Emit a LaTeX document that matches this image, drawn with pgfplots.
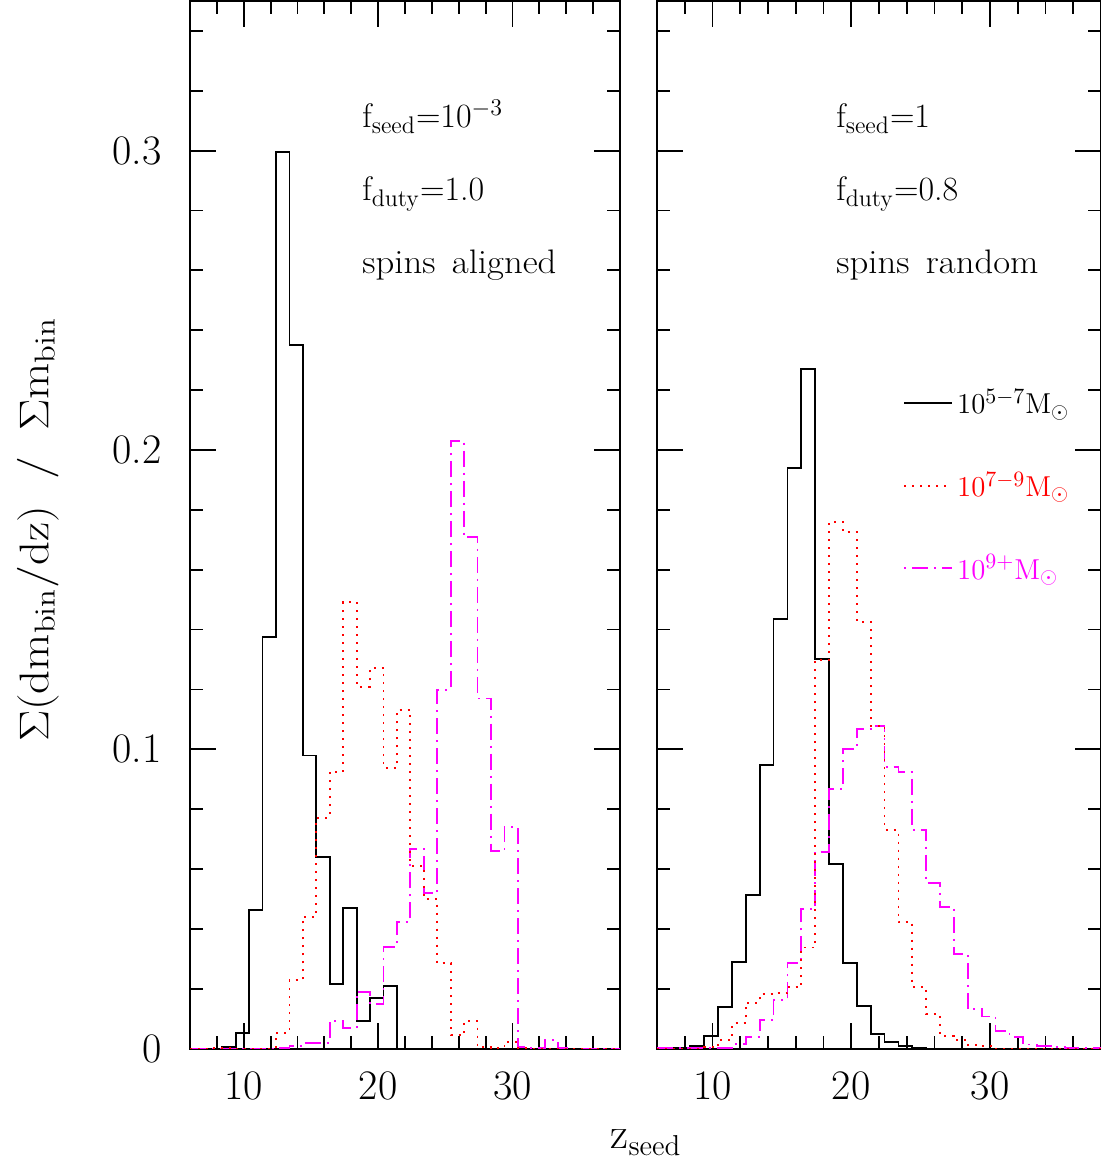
\documentclass[border=0pt]{standalone}
\usepackage{pgfplots}
\pgfplotsset{compat=1.18}
\definecolor{mag}{rgb}{1,0,1}
\definecolor{rdc}{rgb}{1,0,0}
\pgfplotsset{
  panel/.style={
    scale only axis, xmin=6, xmax=38, ymin=0, ymax=0.35, height=523.8pt,
    axis line style={line width=1.1pt, black},
    every tick/.style={line width=0.9pt, black},
    tick align=inside,
    major tick length=13pt, minor tick length=6.5pt,
    xtick={10,20,30}, minor xtick={8,12,14,16,18,22,24,26,28,32,34,36},
    ytick={0,0.1,0.2,0.3}, minor ytick={0.02,0.04,0.06,0.08,0.12,0.14,0.16,0.18,0.22,0.24,0.26,0.28,0.32,0.34},
    xtick pos=both, ytick pos=both,
    xticklabels={10,20,30},
    tick label style={font=\fontsize{21}{25}\selectfont},
    xticklabel style={inner sep=0pt, yshift=-11.5pt, anchor=north},
    yticklabel style={inner sep=0pt, xshift=-14pt, anchor=east},
  },
  blk/.style={black, line width=0.9pt, const plot},
  rd/.style={rdc, line width=0.9pt, const plot, dash pattern=on 1pt off 3pt},
  mg/.style={mag, line width=0.9pt, const plot, dash pattern=on 8pt off 3pt on 1pt off 3pt},
}
\newcommand{\anno}{\fontsize{17}{20}\selectfont}
\begin{document}
\begin{tikzpicture}
\path[use as bounding box] (0pt,0pt) rectangle (550.5pt,584pt);
% left panel
\begin{axis}[panel, at={(95pt,59.7pt)}, anchor=south west, width=215pt,
  yticklabels={0,0.1,0.2,0.3}]
\addplot[blk] coordinates {(6,0) (8.4,0.0006) (9.4,0.0051) (10.4,0.0463) (11.4,0.1376) (12.4,0.2995) (13.4,0.2351) (14.4,0.0979) (15.4,0.0641) (16.4,0.0217) (17.4,0.0469) (18.4,0.0092) (19.4,0.0168) (20.4,0.0210) (21.4,0) (38,0)};
\addplot[mg] coordinates {(6,0) (12.4,0.0003) (13.4,0.0008) (14.4,0.0018) (15.4,0.0018) (16.4,0.0093) (17.4,0.0068) (18.4,0.0190) (19.4,0.0149) (20.4,0.0340) (21.4,0.0424) (22.4,0.0667) (23.4,0.0519) (24.4,0.1198) (25.4,0.2031) (26.4,0.1708) (27.4,0.1170) (28.4,0.0660) (29.4,0.0741) (30.4,0.0006) (31.4,0.0002) (32.4,0.0029) (33.4,0.0002) (34.4,0) (38,0)};
\addplot[rd] coordinates {(6,0) (7.4,0.0003) (9.4,0) (12.4,0.0053) (13.4,0.0229) (14.4,0.0441) (15.4,0.0771) (16.4,0.0925) (17.4,0.1493) (18.4,0.1209) (19.4,0.1271) (20.4,0.0937) (21.4,0.1131) (22.4,0.0611) (23.4,0.0500) (24.4,0.0285) (25.4,0.0045) (26.4,0.0093) (27.4,0.0006) (28.4,0.0003) (29.4,0.0023) (30.4,0.0003) (31.4,0) (38,0)};
\end{axis}
% right panel
\begin{axis}[panel, at={(328.5pt,59.7pt)}, anchor=south west, width=222pt,
  yticklabels={},
  legend cell align=left,
  legend image code/.code={\draw[#1] (0pt,0pt) -- (24pt,0pt);},
  legend style={at={(0.554,0.6335)}, anchor=north west, draw=none, fill=none,
    inner sep=0pt, row sep=23.5pt, font=\fontsize{15}{18}\selectfont}]
\addplot[blk, forget plot] coordinates {(6,0) (6.4,0.0003) (7.4,0.0002) (8.4,0.0009) (9.4,0.0042) (10.4,0.0140) (11.4,0.0290) (12.4,0.0513) (13.4,0.0948) (14.4,0.1434) (15.4,0.1941) (16.4,0.2271) (17.4,0.1302) (18.4,0.0616) (19.4,0.0285) (20.4,0.0141) (21.4,0.0048) (22.4,0.0023) (23.4,0.0010) (24.4,0.0003) (25.4,0) (38,0)};
\addplot[mg, forget plot] coordinates {(6,0.0002) (11.4,0.0015) (12.4,0.0040) (13.4,0.0096) (14.4,0.0162) (15.4,0.0287) (16.4,0.0466) (17.4,0.0658) (18.4,0.0866) (19.4,0.1000) (20.4,0.1069) (21.4,0.1078) (22.4,0.0940) (23.4,0.0923) (24.4,0.0730) (25.4,0.0552) (26.4,0.0472) (27.4,0.0316) (28.4,0.0131) (29.4,0.0107) (30.4,0.0059) (31.4,0.0040) (32.4,0.0014) (33.4,0.0010) (34.4,0.0005) (35.4,0.0002) (38,0.0002)};
\addplot[rd, forget plot] coordinates {(6,0) (9.4,0.0005) (10.4,0.0029) (11.4,0.0085) (12.4,0.0153) (13.4,0.0182) (14.4,0.0185) (15.4,0.0205) (16.4,0.0338) (17.4,0.1298) (18.4,0.1760) (19.4,0.1725) (20.4,0.1426) (21.4,0.1078) (22.4,0.0730) (23.4,0.0422) (24.4,0.0207) (25.4,0.0115) (26.4,0.0043) (27.4,0.0029) (28.4,0.0012) (29.4,0.0008) (30.4,0) (38,0)};
\addlegendimage{black, line width=0.9pt}
\addlegendentry{$10^{5-7}\mathrm{M}_{\odot}$}
\addlegendimage{rdc, line width=0.9pt, dash pattern=on 1pt off 3pt}
\addlegendentry{\textcolor{rdc}{$10^{7-9}\mathrm{M}_{\odot}$}}
\addlegendimage{mag, line width=0.9pt, dash pattern=on 1pt off 3pt on 8pt off 3pt}
\addlegendentry{\textcolor{mag}{$10^{9+}\mathrm{M}_{\odot}$}}
\end{axis}
% annotations
\node[anchor=base west, inner sep=0pt, font=\anno] at (181pt,520pt) {f$_{\mathrm{seed}}$=10$^{-3}$};
\node[anchor=base west, inner sep=0pt, font=\anno] at (181pt,483.5pt) {f$_{\mathrm{duty}}$=1.0};
\node[anchor=base west, inner sep=0pt, font=\anno] at (181pt,447pt) {\scalebox{1.08}[1]{spins\hspace{0.45em}aligned}};
\node[anchor=base west, inner sep=0pt, font=\anno] at (418pt,520pt) {f$_{\mathrm{seed}}$=1};
\node[anchor=base west, inner sep=0pt, font=\anno] at (418pt,483.5pt) {f$_{\mathrm{duty}}$=0.8};
\node[anchor=base west, inner sep=0pt, font=\anno] at (418pt,447pt) {\scalebox{1.08}[1]{spins\hspace{0.45em}random}};
% axis titles
\node[rotate=90, inner sep=0pt, font=\fontsize{21}{25}\selectfont] at (19pt,319pt) {\scalebox{1.13}[1]{$\Sigma(\mathrm{dm_{bin}/dz})\;\;/\;\;\Sigma\mathrm{m_{bin}}$}};
\node[anchor=base, inner sep=0pt, font=\fontsize{22}{26}\selectfont] at (323pt,9.5pt) {z$_{\mathrm{seed}}$};
\end{tikzpicture}
\end{document}
